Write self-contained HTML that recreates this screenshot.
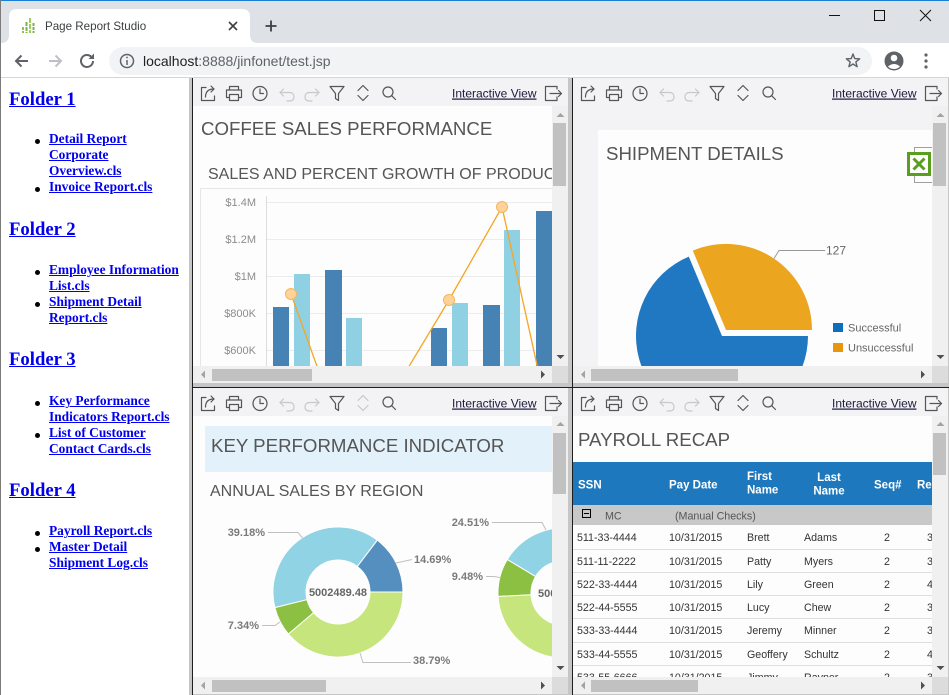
<!DOCTYPE html>
<html><head><meta charset="utf-8"><style>
html,body{margin:0;padding:0;}
body{width:949px;height:695px;overflow:hidden;position:relative;background:#c6c6c6;font-family:"Liberation Sans",Arial,sans-serif;}
.sb{position:absolute;left:1px;top:78px;width:188px;height:617px;background:#fff;font-family:"Liberation Serif","Times New Roman",serif;font-weight:bold;color:#0000ee;}
.h{position:absolute;left:8px;font-size:18.7px;line-height:22px;text-decoration:underline;white-space:nowrap;}
.it{position:absolute;left:48px;font-size:13.4px;line-height:16px;text-decoration:underline;white-space:nowrap;}
.bu{position:absolute;left:34px;width:5px;height:5px;border-radius:50%;background:#000;}
.vl{position:absolute;width:1px;background:#1e1e1e;}
</style></head><body>

<svg width="949" height="78" style="position:absolute;left:0;top:0" font-family="Liberation Sans, Arial, sans-serif">
<rect width="949" height="43" fill="#dee1e6"/>
<rect width="949" height="1" fill="#1a7dd6"/>
<rect y="43" width="949" height="35" fill="#fff"/>
<rect y="77" width="949" height="1" fill="#d6d6d6"/>
<path d="M1 43 Q9 43 9 35 V17 Q9 9 17 9 H242 Q250 9 250 17 V35 Q250 43 258 43 Z" fill="#fff"/>
<g stroke-width="2">
<path d="M23 27V33" stroke="#8bc34a" stroke-dasharray="3 1"/>
<path d="M26.5 22V33" stroke="#7cb342" stroke-dasharray="4 1"/>
<path d="M30 18V33" stroke="#9ccc65" stroke-dasharray="5 1"/>
<path d="M33.5 23V33" stroke="#7cb342" stroke-dasharray="3 1"/>
</g>
<text x="45" y="30" font-size="11.6" fill="#3c4043">Page Report Studio</text>
<path d="M229 22L237 30M237 22L229 30" stroke="#3c4043" stroke-width="1.6"/>
<path d="M271 20.5V31.5M265.5 26H276.5" stroke="#3c4043" stroke-width="1.8"/>
<path d="M829 15.5H840" stroke="#111" stroke-width="1"/>
<rect x="874.5" y="10.5" width="10" height="10" fill="none" stroke="#111"/>
<path d="M920 10L931 21M931 10L920 21" stroke="#111" stroke-width="1"/>
<path d="M16 61H28M21.5 55.5L16 61L21.5 66.5" stroke="#5f6368" stroke-width="2" fill="none"/>
<path d="M49 61H61M55.5 55.5L61 61L55.5 66.5" stroke="#bdc1c6" stroke-width="2" fill="none"/>
<path d="M93 61A6 6 0 1 1 91.2 56.7" stroke="#5f6368" stroke-width="2" fill="none"/>
<path d="M94 53.5V59H88.5Z" fill="#5f6368"/>
<rect x="109" y="47" width="763" height="28" rx="14" fill="#f1f3f4"/>
<circle cx="127" cy="61" r="6.5" stroke="#5f6368" stroke-width="1.5" fill="none"/>
<path d="M127 60V65" stroke="#5f6368" stroke-width="1.5"/>
<circle cx="127" cy="57.5" r="0.9" fill="#5f6368"/>
<text x="143" y="66" font-size="14"><tspan fill="#202124">localhost</tspan><tspan fill="#5f6368">:8888/jinfonet/test.jsp</tspan></text>
<polygon points="853,54 854.76,58.57 859.66,58.84 855.85,61.93 857.11,66.66 853,64 848.89,66.66 850.15,61.93 846.34,58.84 851.24,58.57" fill="none" stroke="#5f6368" stroke-width="1.4" stroke-linejoin="round"/>
<circle cx="894" cy="61" r="9.5" fill="#5f6368"/>
<circle cx="894" cy="58" r="3.3" fill="#fff"/>
<path d="M888 66.5Q894 61.5 900 66.5Q897.5 69 894 69Q890.5 69 888 66.5Z" fill="#fff"/>
<circle cx="926" cy="55" r="1.6" fill="#5f6368"/><circle cx="926" cy="61" r="1.6" fill="#5f6368"/><circle cx="926" cy="67" r="1.6" fill="#5f6368"/>
</svg>
<div style="position:absolute;left:0;top:0;width:1px;height:695px;background:#7b7b7b"></div>

<div class="sb">
<div class="h" style="top:10.5px">Folder 1</div>
<div class="bu" style="top:61px"></div><div class="bu" style="top:109px"></div>
<div class="it" style="top:53.4px">Detail Report<br>Corporate<br>Overview.cls<br>Invoice Report.cls</div>
<div class="h" style="top:140.8px">Folder 2</div>
<div class="bu" style="top:192px"></div><div class="bu" style="top:224px"></div>
<div class="it" style="top:184.4px">Employee Information<br>List.cls<br>Shipment Detail<br>Report.cls</div>
<div class="h" style="top:271.3px">Folder 3</div>
<div class="bu" style="top:323px"></div><div class="bu" style="top:355px"></div>
<div class="it" style="top:315.4px">Key Performance<br>Indicators Report.cls<br>List of Customer<br>Contact Cards.cls</div>
<div class="h" style="top:401.8px">Folder 4</div>
<div class="bu" style="top:453px"></div><div class="bu" style="top:469px"></div>
<div class="it" style="top:445.4px">Payroll Report.cls<br>Master Detail<br>Shipment Log.cls</div>
</div>

<div class="vl" style="left:192px;top:78px;height:617px"></div>
<div class="vl" style="left:572px;top:78px;height:617px"></div>
<div style="position:absolute;left:192px;top:387px;width:757px;height:1px;background:#1e1e1e"></div>

<!-- TOP LEFT -->
<svg width="375" height="305" style="position:absolute;left:193px;top:78px" font-family="Liberation Sans, Arial, sans-serif">
<defs><clipPath id="c1"><rect x="0" y="28" width="359" height="260"/></clipPath></defs>
<rect width="375" height="305" fill="#f3f2f5"/>
<g fill="none" stroke="#555" stroke-width="1.2" stroke-linecap="round" stroke-linejoin="round">
<path d="M13 9.5H8.5V22.5H21.5V18"/><path d="M12.5 19C12.5 13.5 15.5 11 21 11"/><path d="M18 8L21 11L18 14"/>
<path d="M36.5 12V8.5H45.5V12"/><rect x="33.5" y="12" width="15" height="7.5"/><rect x="36.5" y="16.5" width="9" height="6" fill="#f3f2f5"/>
<circle cx="67" cy="15.5" r="7"/><path d="M67 11V15.5H70.5"/>
<path d="M137 8.5H151L145.5 15.5V22.5L142.5 20.5V15.5Z"/>
<path d="M165 12.5L170 7.5L175 12.5M165 17.5L170 22.5L175 17.5"/>
<circle cx="195" cy="14" r="5"/><path d="M198.8 17.8L202.5 21.5"/>
<path d="M364 11V8.5H352.5V22.5H364V19"/><path d="M357 15.5H368.5M365.5 12.5L368.5 15.5L365.5 18.5"/>
</g>
<g fill="none" stroke="#c8c8c8" stroke-width="1.2" stroke-linecap="round" stroke-linejoin="round">
<path d="M90.5 11L87 14.5L90.5 18"/><path d="M87 14.5H96.5C99.5 14.5 101 16.5 101 19S99.5 23 96.5 23H94"/>
<path d="M122.5 11L126 14.5L122.5 18"/><path d="M126 14.5H116.5C113.5 14.5 112 16.5 112 19S113.5 23 116.5 23H119"/>
</g>
<text x="259" y="19.5" font-size="12" fill="#1a1a3a" text-decoration="underline">Interactive View</text>
<g clip-path="url(#c1)">
<rect x="0" y="28" width="359" height="260" fill="#fcfdfc"/>
<text x="8" y="57" font-size="18.67" fill="#555">COFFEE SALES PERFORMANCE</text>
<text x="15" y="101" font-size="16" fill="#555">SALES AND PERCENT GROWTH OF PRODUCT</text>
<rect x="7.5" y="110.5" width="400" height="250" fill="none" stroke="#e6e6e6"/>
<g stroke="#ececec"><path d="M73 124.5H400M73 161.5H400M73 198.5H400M73 235.5H400M73 272.5H400"/></g>
<path d="M73.5 118V300" stroke="#dddddd"/>
<g font-size="11" fill="#8c8c8c" text-anchor="end">
<text x="63" y="128">$1.4M</text><text x="63" y="165">$1.2M</text><text x="63" y="202">$1M</text><text x="63" y="239">$800K</text><text x="63" y="276">$600K</text>
</g>
<g fill="#4682b4">
<rect x="80" y="229" width="16" height="80"/><rect x="132" y="192" width="17" height="120"/><rect x="238" y="250" width="16" height="60"/><rect x="290" y="227" width="17" height="80"/><rect x="343" y="133" width="17" height="180"/>
</g>
<g fill="#8fd1e3">
<rect x="101" y="196" width="16" height="110"/><rect x="153" y="240" width="16" height="70"/><rect x="259" y="225" width="16" height="80"/><rect x="311" y="152" width="16" height="150"/>
</g>
<g fill="none" stroke="#f5a623" stroke-width="1.3"><polyline points="98,216 130,305"/><polyline points="206,305 256,222 309,129 348,305"/></g>
<g fill="#fdd39b" stroke="#f7b657"><circle cx="98" cy="216" r="5.5"/><circle cx="256" cy="222" r="5.5"/><circle cx="309" cy="129" r="5.5"/></g>
</g>
<rect x="359" y="28" width="16" height="260" fill="#f0f0f0"/>
<rect x="360" y="45" width="13" height="63" fill="#c1c1c1"/>
<polygon points="363.5,39 367.5,35 371.5,39" fill="#a3a3a3"/>
<polygon points="363.5,277 371.5,277 367.5,281" fill="#505050"/>
<rect x="0" y="288" width="359" height="17" fill="#f0f0f0"/>
<rect x="19" y="291" width="100" height="12" fill="#c1c1c1"/>
<polygon points="12,292.5 8,296.5 12,300.5" fill="#a3a3a3"/>
<polygon points="348,292.5 352,296.5 348,300.5" fill="#505050"/>
<rect x="359" y="288" width="16" height="17" fill="#dcdcdc"/>
</svg>

<!-- TOP RIGHT -->
<svg width="375" height="305" style="position:absolute;left:573px;top:78px" font-family="Liberation Sans, Arial, sans-serif">
<defs><clipPath id="c2"><rect x="0" y="28" width="359" height="260"/></clipPath></defs>
<rect width="375" height="305" fill="#f3f2f5"/>
<g fill="none" stroke="#555" stroke-width="1.2" stroke-linecap="round" stroke-linejoin="round">
<path d="M13 9.5H8.5V22.5H21.5V18"/><path d="M12.5 19C12.5 13.5 15.5 11 21 11"/><path d="M18 8L21 11L18 14"/>
<path d="M36.5 12V8.5H45.5V12"/><rect x="33.5" y="12" width="15" height="7.5"/><rect x="36.5" y="16.5" width="9" height="6" fill="#f3f2f5"/>
<circle cx="67" cy="15.5" r="7"/><path d="M67 11V15.5H70.5"/>
<path d="M137 8.5H151L145.5 15.5V22.5L142.5 20.5V15.5Z"/>
<path d="M165 12.5L170 7.5L175 12.5M165 17.5L170 22.5L175 17.5"/>
<circle cx="195" cy="14" r="5"/><path d="M198.8 17.8L202.5 21.5"/>
<path d="M364 11V8.5H352.5V22.5H364V19"/><path d="M357 15.5H368.5M365.5 12.5L368.5 15.5L365.5 18.5"/>
</g>
<g fill="none" stroke="#c8c8c8" stroke-width="1.2" stroke-linecap="round" stroke-linejoin="round">
<path d="M90.5 11L87 14.5L90.5 18"/><path d="M87 14.5H96.5C99.5 14.5 101 16.5 101 19S99.5 23 96.5 23H94"/>
<path d="M122.5 11L126 14.5L122.5 18"/><path d="M126 14.5H116.5C113.5 14.5 112 16.5 112 19S113.5 23 116.5 23H119"/>
</g>
<text x="259" y="19.5" font-size="12" fill="#1a1a3a" text-decoration="underline">Interactive View</text>
<g clip-path="url(#c2)">
<rect x="25" y="52" width="400" height="300" fill="#fcfdfc"/>
<text x="33" y="82" font-size="18.67" fill="#555">SHIPMENT DETAILS</text>
<rect x="341.5" y="69.5" width="22" height="35" fill="#fcfdfc" stroke="#a0a0a0"/>
<rect x="335.5" y="75.5" width="21" height="21" fill="#fff" stroke="#5a9e1e" stroke-width="3"/>
<path d="M340.5 80.5L351.5 91.5M351.5 80.5L340.5 91.5" stroke="#5a9e1e" stroke-width="3"/>
<path d="M149 258L235 258A86 86 0 1 1 115.8 178.6Z" fill="#1f78c1"/>
<path d="M153 252L119.8 172.6A86 86 0 0 1 239 252Z" fill="#eba51e"/>
<path d="M201 180.5L206 172.5H252" fill="none" stroke="#999"/>
<text x="253" y="176.5" font-size="12" fill="#666">127</text>
<rect x="260" y="245" width="10" height="9" fill="#0b6fbd"/>
<text x="275" y="253.5" font-size="11" fill="#666">Successful</text>
<rect x="260" y="265" width="10" height="9" fill="#e8960c"/>
<text x="275" y="273.5" font-size="11" fill="#666">Unsuccessful</text>
</g>
<rect x="359" y="28" width="16" height="260" fill="#f0f0f0"/>
<rect x="360" y="45" width="13" height="63" fill="#c1c1c1"/>
<polygon points="363.5,39 367.5,35 371.5,39" fill="#a3a3a3"/>
<polygon points="363.5,277 371.5,277 367.5,281" fill="#505050"/>
<rect x="0" y="288" width="359" height="17" fill="#f0f0f0"/>
<rect x="18" y="291" width="147" height="12" fill="#c1c1c1"/>
<polygon points="12,292.5 8,296.5 12,300.5" fill="#a3a3a3"/>
<polygon points="348,292.5 352,296.5 348,300.5" fill="#505050"/>
<rect x="359" y="288" width="16" height="17" fill="#dcdcdc"/>
</svg>

<!-- BOTTOM LEFT -->
<svg width="375" height="306" style="position:absolute;left:193px;top:388px" font-family="Liberation Sans, Arial, sans-serif">
<defs><clipPath id="c3"><rect x="0" y="28" width="359" height="261"/></clipPath></defs>
<rect width="375" height="306" fill="#f3f2f5"/>
<g fill="none" stroke="#555" stroke-width="1.2" stroke-linecap="round" stroke-linejoin="round">
<path d="M13 9.5H8.5V22.5H21.5V18"/><path d="M12.5 19C12.5 13.5 15.5 11 21 11"/><path d="M18 8L21 11L18 14"/>
<path d="M36.5 12V8.5H45.5V12"/><rect x="33.5" y="12" width="15" height="7.5"/><rect x="36.5" y="16.5" width="9" height="6" fill="#f3f2f5"/>
<circle cx="67" cy="15.5" r="7"/><path d="M67 11V15.5H70.5"/>
<path d="M137 8.5H151L145.5 15.5V22.5L142.5 20.5V15.5Z"/>
<circle cx="195" cy="14" r="5"/><path d="M198.8 17.8L202.5 21.5"/>
<path d="M364 11V8.5H352.5V22.5H364V19"/><path d="M357 15.5H368.5M365.5 12.5L368.5 15.5L365.5 18.5"/>
</g>
<g fill="none" stroke="#c8c8c8" stroke-width="1.2" stroke-linecap="round" stroke-linejoin="round">
<path d="M90.5 11L87 14.5L90.5 18"/><path d="M87 14.5H96.5C99.5 14.5 101 16.5 101 19S99.5 23 96.5 23H94"/>
<path d="M122.5 11L126 14.5L122.5 18"/><path d="M126 14.5H116.5C113.5 14.5 112 16.5 112 19S113.5 23 116.5 23H119"/>
<path d="M165 12.5L170 7.5L175 12.5M165 17.5L170 22.5L175 17.5"/>
</g>
<text x="259" y="19.5" font-size="12" fill="#1a1a3a" text-decoration="underline">Interactive View</text>
<g clip-path="url(#c3)">
<rect x="0" y="28" width="359" height="261" fill="#fcfdfc"/>
<rect x="12" y="38" width="400" height="46" fill="#e3f1fb"/>
<text x="18" y="64" font-size="18.67" fill="#555">KEY PERFORMANCE INDICATOR</text>
<text x="17" y="108" font-size="16" fill="#555">ANNUAL SALES BY REGION</text>
<g stroke="#fff" stroke-width="1">
<path d="M210 204A65 65 0 0 0 184.21 152.16L164.30 178.48A32 32 0 0 1 177 204Z" fill="#558fc0"/>
<path d="M184.21 152.16A65 65 0 0 0 81.90 219.61L113.94 211.69A32 32 0 0 1 164.30 178.48Z" fill="#90d3e4"/>
<path d="M81.90 219.61A65 65 0 0 0 95.42 246.04L120.59 224.70A32 32 0 0 1 113.94 211.69Z" fill="#8cc043"/>
<path d="M95.42 246.04A65 65 0 0 0 210 204L177 204A32 32 0 0 1 120.59 224.70Z" fill="#c6e57c"/>
<path d="M435 205A65 65 0 0 0 401.71 148.26L385.61 177.07A32 32 0 0 1 402 205Z" fill="#558fc0"/>
<path d="M401.71 148.26A65 65 0 0 0 314.28 171.52L342.57 188.52A32 32 0 0 1 385.61 177.07Z" fill="#90d3e4"/>
<path d="M314.28 171.52A65 65 0 0 0 305.10 208.52L338.05 206.73A32 32 0 0 1 342.57 188.52Z" fill="#8cc043"/>
<path d="M305.10 208.52A65 65 0 0 0 435 205L402 205A32 32 0 0 1 338.05 206.73Z" fill="#c6e57c"/>
</g>
<g fill="none" stroke="#c0c0c0">
<path d="M75 144.5H105L109.5 150"/>
<path d="M203 175L219 171.5"/>
<path d="M87 234L82 237.5H69"/>
<path d="M167 265L170 274.5H218"/>
<path d="M299 134.5H349L353 142"/>
<path d="M293 188.5H301L307 189.5"/>
</g>
<g font-size="11" font-weight="bold" fill="#666">
<text x="145" y="208" text-anchor="middle">5002489.48</text>
<text x="345" y="209">5002489.48</text>
</g>
<g font-size="11" font-weight="bold" fill="#7a7a7a">
<text x="72" y="148" text-anchor="end">39.18%</text>
<text x="221" y="175">14.69%</text>
<text x="66" y="241" text-anchor="end">7.34%</text>
<text x="220" y="276">38.79%</text>
<text x="296" y="138" text-anchor="end">24.51%</text>
<text x="290" y="192" text-anchor="end">9.48%</text>
</g>
</g>
<rect x="359" y="28" width="16" height="261" fill="#f0f0f0"/>
<rect x="360" y="45" width="13" height="61" fill="#c1c1c1"/>
<polygon points="363.5,38 367.5,34 371.5,38" fill="#a3a3a3"/>
<polygon points="363.5,278 371.5,278 367.5,282" fill="#505050"/>
<rect x="0" y="289" width="359" height="17" fill="#f0f0f0"/>
<rect x="19" y="292" width="114" height="12" fill="#c1c1c1"/>
<polygon points="12,293.5 8,297.5 12,301.5" fill="#a3a3a3"/>
<polygon points="348,293.5 352,297.5 348,301.5" fill="#505050"/>
<rect x="359" y="289" width="16" height="17" fill="#dcdcdc"/>
</svg>

<!-- BOTTOM RIGHT -->
<svg width="375" height="306" style="position:absolute;left:573px;top:388px" font-family="Liberation Sans, Arial, sans-serif">
<defs><clipPath id="c4"><rect x="0" y="28" width="359" height="261"/></clipPath></defs>
<rect width="375" height="306" fill="#f3f2f5"/>
<g fill="none" stroke="#555" stroke-width="1.2" stroke-linecap="round" stroke-linejoin="round">
<path d="M13 9.5H8.5V22.5H21.5V18"/><path d="M12.5 19C12.5 13.5 15.5 11 21 11"/><path d="M18 8L21 11L18 14"/>
<path d="M36.5 12V8.5H45.5V12"/><rect x="33.5" y="12" width="15" height="7.5"/><rect x="36.5" y="16.5" width="9" height="6" fill="#f3f2f5"/>
<circle cx="67" cy="15.5" r="7"/><path d="M67 11V15.5H70.5"/>
<path d="M137 8.5H151L145.5 15.5V22.5L142.5 20.5V15.5Z"/>
<path d="M165 12.5L170 7.5L175 12.5M165 17.5L170 22.5L175 17.5"/>
<circle cx="195" cy="14" r="5"/><path d="M198.8 17.8L202.5 21.5"/>
<path d="M364 11V8.5H352.5V22.5H364V19"/><path d="M357 15.5H368.5M365.5 12.5L368.5 15.5L365.5 18.5"/>
</g>
<g fill="none" stroke="#c8c8c8" stroke-width="1.2" stroke-linecap="round" stroke-linejoin="round">
<path d="M90.5 11L87 14.5L90.5 18"/><path d="M87 14.5H96.5C99.5 14.5 101 16.5 101 19S99.5 23 96.5 23H94"/>
<path d="M122.5 11L126 14.5L122.5 18"/><path d="M126 14.5H116.5C113.5 14.5 112 16.5 112 19S113.5 23 116.5 23H119"/>
</g>
<text x="259" y="19.5" font-size="12" fill="#1a1a3a" text-decoration="underline">Interactive View</text>
<g clip-path="url(#c4)">
<rect x="0" y="28" width="359" height="261" fill="#fcfdfc"/>
<text x="5" y="58" font-size="18.67" fill="#555">PAYROLL RECAP</text>
<rect x="0" y="74" width="359" height="43" fill="#1e78be"/>
<g font-size="11.5" font-weight="bold" fill="#fff">
<text x="5" y="100.5">SSN</text>
<text x="96" y="100.5">Pay Date</text>
<text x="174" y="92">First</text><text x="174" y="105.5">Name</text>
<text x="256" y="93" text-anchor="middle">Last</text><text x="256" y="106.5" text-anchor="middle">Name</text>
<text x="301" y="100.5">Seq#</text>
<text x="344" y="100.5">Re</text>
</g>
<rect x="0" y="117" width="359" height="20" fill="#c8c8c8"/>
<rect x="9.5" y="121.5" width="8" height="8" fill="none" stroke="#000"/>
<path d="M11 125.5H16" stroke="#000"/>
<g font-size="10.7" fill="#555"><text x="32" y="131.5">MC</text><text x="102" y="131.5">(Manual Checks)</text></g>
<g stroke="#dedede"><path d="M0 161.5H359M0 184.5H359M0 207.5H359M0 230.5H359M0 254.5H359M0 277.5H359"/></g>
<g font-size="10.67" fill="#333">
<text x="4" y="153">511-33-4444</text><text x="96" y="153">10/31/2015</text><text x="174" y="153">Brett</text><text x="231" y="153">Adams</text><text x="314" y="153" text-anchor="middle">2</text><text x="354" y="153">3</text>
<text x="4" y="177">511-11-2222</text><text x="96" y="177">10/31/2015</text><text x="174" y="177">Patty</text><text x="231" y="177">Myers</text><text x="314" y="177" text-anchor="middle">2</text><text x="354" y="177">3</text>
<text x="4" y="200">522-33-4444</text><text x="96" y="200">10/31/2015</text><text x="174" y="200">Lily</text><text x="231" y="200">Green</text><text x="314" y="200" text-anchor="middle">2</text><text x="354" y="200">4</text>
<text x="4" y="223">522-44-5555</text><text x="96" y="223">10/31/2015</text><text x="174" y="223">Lucy</text><text x="231" y="223">Chew</text><text x="314" y="223" text-anchor="middle">2</text><text x="354" y="223">3</text>
<text x="4" y="246">533-33-4444</text><text x="96" y="246">10/31/2015</text><text x="174" y="246">Jeremy</text><text x="231" y="246">Minner</text><text x="314" y="246" text-anchor="middle">2</text><text x="354" y="246">3</text>
<text x="4" y="270">533-44-5555</text><text x="96" y="270">10/31/2015</text><text x="174" y="270">Geoffery</text><text x="231" y="270">Schultz</text><text x="314" y="270" text-anchor="middle">2</text><text x="354" y="270">4</text>
<text x="4" y="293">533-55-6666</text><text x="96" y="293">10/31/2015</text><text x="174" y="293">Jimmy</text><text x="231" y="293">Rayner</text><text x="314" y="293" text-anchor="middle">2</text><text x="354" y="293">3</text>
</g>
</g>
<rect x="359" y="28" width="16" height="261" fill="#f0f0f0"/>
<rect x="360" y="45" width="13" height="42" fill="#c1c1c1"/>
<polygon points="363.5,38 367.5,34 371.5,38" fill="#a3a3a3"/>
<polygon points="363.5,278 371.5,278 367.5,282" fill="#505050"/>
<rect x="0" y="289" width="359" height="17" fill="#f0f0f0"/>
<rect x="18" y="292" width="107" height="12" fill="#c1c1c1"/>
<polygon points="12,293.5 8,297.5 12,301.5" fill="#a3a3a3"/>
<polygon points="348,293.5 352,297.5 348,301.5" fill="#505050"/>
<rect x="359" y="289" width="16" height="17" fill="#dcdcdc"/>
</svg>

</body></html>
